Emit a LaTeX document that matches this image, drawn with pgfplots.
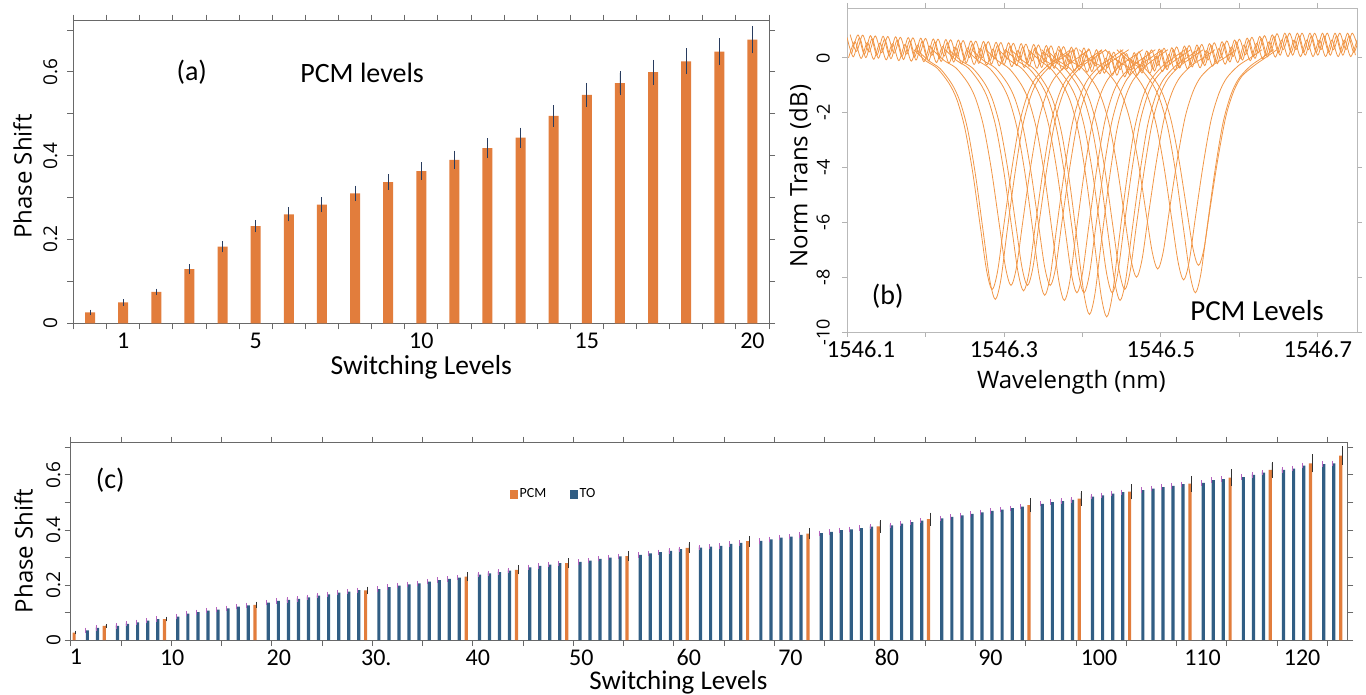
\documentclass[border=0pt]{standalone}
\usepackage{fontspec}
\setmainfont{Carlito}
\newfontfamily\osans{Open Sans}
\usepackage{pgfplots}
\usepackage{pgfplotstable}
\pgfplotsset{compat=1.18}
\definecolor{pcm}{RGB}{226,125,60}
\definecolor{tob}{RGB}{49,94,132}
\definecolor{errb}{RGB}{40,60,95}
\definecolor{errm}{RGB}{180,100,190}
\definecolor{errk}{RGB}{50,50,50}
\definecolor{orl}{RGB}{241,150,70}
\definecolor{axg}{RGB}{105,105,105}
\newcommand{\fs}[1]{\fontsize{#1}{#1}\selectfont}
\pgfplotsset{ol/.style={orl, line width=0.8pt, smooth, mark=none}}
\tikzset{ytl/.style={rotate=90, anchor=south, inner sep=0pt}}

\pgfplotstableread{
xa ya xb yb xc yc xd yd
0.100 0.75 0.104 0.85 0.102 0.00 0.106 0.15
0.108 0.04 0.112 0.24 0.110 0.59 0.114 0.84
0.116 0.73 0.120 0.83 0.118 -0.02 0.122 0.13
0.124 0.01 0.128 0.21 0.126 0.56 0.130 0.81
0.132 0.70 0.136 0.80 0.134 -0.05 0.138 0.10
0.140 -0.01 0.144 0.19 0.142 0.54 0.146 0.79
0.148 0.68 0.152 0.78 0.150 -0.07 0.154 0.08
0.156 -0.03 0.160 0.17 0.158 0.52 0.162 0.77
0.164 0.65 0.168 0.75 0.166 -0.10 0.170 0.05
0.172 -0.06 0.176 0.14 0.174 0.49 0.178 0.74
0.180 0.63 0.184 0.73 0.182 -0.12 0.186 0.03
0.188 -0.08 0.192 0.12 0.190 0.47 0.194 0.72
0.196 0.61 0.200 0.71 0.198 -0.14 0.202 0.01
0.204 -0.11 0.208 0.09 0.206 0.44 0.210 0.69
0.212 0.58 0.216 0.68 0.214 -0.17 0.218 -0.02
0.220 -0.13 0.224 0.07 0.222 0.42 0.226 0.67
0.228 0.56 0.232 0.66 0.230 -0.19 0.234 -0.04
0.236 -0.15 0.240 0.05 0.238 0.40 0.242 0.65
0.244 0.53 0.248 0.63 0.246 -0.22 0.250 -0.07
0.252 -0.18 0.256 0.02 0.254 0.37 0.258 0.62
0.260 0.51 0.264 0.61 0.262 -0.24 0.266 -0.09
0.268 -0.20 0.272 0.00 0.270 0.35 0.274 0.60
0.276 0.49 0.280 0.59 0.278 -0.26 0.282 -0.11
0.284 -0.23 0.288 -0.03 0.286 0.32 0.290 0.57
0.292 0.46 0.296 0.56 0.294 -0.29 0.298 -0.14
0.300 -0.25 0.304 -0.05 0.302 0.30 0.306 0.55
0.308 0.43 0.312 0.53 0.310 -0.32 0.314 -0.17
0.316 -0.28 0.320 -0.08 0.318 0.27 0.322 0.52
0.324 0.40 0.328 0.50 0.326 -0.35 0.330 -0.20
0.332 -0.31 0.336 -0.11 0.334 0.24 0.338 0.49
0.340 0.37 0.344 0.47 0.342 -0.38 0.346 -0.23
0.348 -0.35 0.352 -0.15 0.350 0.20 0.354 0.45
0.356 0.34 0.360 0.44 0.358 -0.41 0.362 -0.26
0.364 -0.38 0.368 -0.18 0.366 0.17 0.370 0.42
0.372 0.31 0.376 0.41 0.374 -0.44 0.378 -0.29
0.380 -0.41 0.384 -0.21 0.382 0.14 0.386 0.39
0.388 0.27 0.392 0.37 0.390 -0.48 0.394 -0.33
0.396 -0.44 0.400 -0.24 0.398 0.11 0.402 0.36
0.404 0.23 0.408 0.33 0.406 -0.52 0.410 -0.37
0.412 -0.50 0.416 -0.30 0.414 0.05 0.418 0.30
0.420 0.17 0.424 0.27 0.422 -0.58 0.426 -0.43
0.428 -0.56 0.432 -0.36 0.430 -0.01 0.434 0.24
0.436 0.11 0.440 0.21 0.438 -0.64 0.442 -0.49
0.444 -0.63 0.448 -0.43 0.446 -0.08 0.450 0.17
0.452 0.06 0.456 0.16 0.454 -0.69 0.458 -0.54
0.460 -0.61 0.464 -0.41 0.462 -0.06 0.466 0.19
0.468 0.12 0.472 0.22 0.470 -0.63 0.474 -0.48
0.476 -0.55 0.480 -0.35 0.478 0.00 0.482 0.25
0.484 0.19 0.488 0.29 0.486 -0.56 0.490 -0.41
0.492 -0.48 0.496 -0.28 0.494 0.07 0.498 0.32
0.500 0.25 0.504 0.35 0.502 -0.50 0.506 -0.35
0.508 -0.43 0.512 -0.23 0.510 0.12 0.514 0.37
0.516 0.30 0.520 0.40 0.518 -0.45 0.522 -0.30
0.524 -0.37 0.528 -0.17 0.526 0.18 0.530 0.43
0.532 0.35 0.536 0.45 0.534 -0.40 0.538 -0.25
0.540 -0.33 0.544 -0.13 0.542 0.22 0.546 0.47
0.548 0.39 0.552 0.49 0.550 -0.36 0.554 -0.21
0.556 -0.28 0.560 -0.08 0.558 0.27 0.562 0.52
0.564 0.45 0.568 0.55 0.566 -0.30 0.570 -0.15
0.572 -0.21 0.576 -0.01 0.574 0.34 0.578 0.59
0.580 0.52 0.584 0.62 0.582 -0.23 0.586 -0.08
0.588 -0.15 0.592 0.05 0.590 0.40 0.594 0.65
0.596 0.58 0.600 0.68 0.598 -0.17 0.602 -0.02
0.604 -0.08 0.608 0.12 0.606 0.47 0.610 0.72
0.612 0.65 0.616 0.75 0.614 -0.10 0.618 0.05
0.620 -0.02 0.624 0.18 0.622 0.53 0.626 0.78
0.628 0.71 0.632 0.81 0.630 -0.04 0.634 0.11
0.636 0.04 0.640 0.24 0.638 0.59 0.642 0.84
0.644 0.78 0.648 0.88 0.646 0.03 0.650 0.18
0.652 0.10 0.656 0.30 0.654 0.65 0.658 0.90
0.660 0.80 0.664 0.90 0.662 0.05 0.666 0.20
0.668 0.10 0.672 0.30 0.670 0.65 0.674 0.90
0.676 0.80 0.680 0.90 0.678 0.05 0.682 0.20
0.684 0.10 0.688 0.30 0.686 0.65 0.690 0.90
0.692 0.80 0.696 0.90 0.694 0.05 0.698 0.20
0.700 0.10 0.704 0.30 0.702 0.65 0.706 0.90
0.708 0.80 0.712 0.90 0.710 0.05 0.714 0.20
0.716 0.10 0.720 0.30 0.718 0.65 0.722 0.90
0.724 0.80 0.728 0.90 0.726 0.05 0.730 0.20
0.732 0.10 0.736 0.30 0.734 0.65 0.738 0.90
0.740 0.80 0.744 0.90 0.742 0.05 0.746 0.20
0.748 0.10 0.752 0.30 0.750 0.65 0.754 0.90
}\basetab

\begin{document}
\begin{tikzpicture}
\useasboundingbox (0,0) rectangle (1366pt,694pt);

% ---------------- (a) ----------------
\begin{axis}[
  at={(73.5pt,370.7pt)}, anchor=south west,
  scale only axis, width=695.5pt, height=302.6pt,
  xmin=-0.5, xmax=20.5, ymin=0, ymax=0.722,
  axis line style={draw=axg, line width=0.9pt},
  tick align=outside, major tick length=6pt, minor tick length=6pt,
  tick style={draw=axg, line width=0.8pt},
  xtick={1,5,10,15,20}, xticklabels={1,5,10,15,20},
  major x tick style={draw=none},
  minor xtick={-0.5,0.5,...,20.5},
  ytick={0,0.2,0.4,0.6}, yticklabels={},
  minor ytick={0.1,0.3,0.5,0.7},
  xticklabel style={font=\fs{24}},
  xlabel={Switching Levels},
  xlabel style={font=\fs{27.5}, at={(axis description cs:0.5,-0.145)}, anchor=center},
  ylabel={Phase Shift},
  ylabel style={font=\osans\fs{24}, at={(axis description cs:-0.0733,0.485)}, anchor=center},
  after end axis/.code={
    \node[ytl, font=\osans\fs{19}] at ([xshift=-16pt]axis cs:-0.5,0) {0};
    \node[ytl, font=\osans\fs{19}] at ([xshift=-16pt]axis cs:-0.5,0.2) {0.2};
    \node[ytl, font=\osans\fs{19}] at ([xshift=-16pt]axis cs:-0.5,0.4) {0.4};
    \node[ytl, font=\osans\fs{19}] at ([xshift=-16pt]axis cs:-0.5,0.6) {0.6};
  },
]
\addplot[ybar, bar width=10pt, fill=pcm, draw=none,
  error bars/.cd, y dir=both, y explicit,
  error bar style={errb, line width=0.8pt},
  error mark options={errb, mark size=2pt, line width=0.8pt}]
coordinates {
(0,0.026) +- (0,0.002)
(1,0.050) +- (0,0.003)
(2,0.075) +- (0,0.003)
(3,0.129) +- (0,0.007)
(4,0.183) +- (0,0.009)
(5,0.232) +- (0,0.010)
(6,0.260) +- (0,0.012)
(7,0.283) +- (0,0.013)
(8,0.310) +- (0,0.014)
(9,0.337) +- (0,0.014)
(10,0.363) +- (0,0.016)
(11,0.390) +- (0,0.017)
(12,0.418) +- (0,0.019)
(13,0.443) +- (0,0.019)
(14,0.495) +- (0,0.021)
(15,0.545) +- (0,0.024)
(16,0.573) +- (0,0.024)
(17,0.599) +- (0,0.025)
(18,0.625) +- (0,0.026)
(19,0.648) +- (0,0.027)
(20,0.677) +- (0,0.028)
};
\node[font=\fs{28}] at (axis description cs:0.170,0.830) {(a)};
\node[font=\fs{28}] at (axis description cs:0.415,0.827) {PCM levels};
\end{axis}

% ---------------- (b) ----------------
\begin{axis}[
  at={(847pt,362pt)}, anchor=south west,
  scale only axis, width=510pt, height=324pt,
  xmin=0.1, xmax=0.75, ymin=-10, ymax=1.82,
  axis line style={draw=gray!55, line width=0.9pt},
  tick align=outside, major tick length=5pt, minor tick length=5pt,
  tick style={draw=gray!60, line width=0.8pt},
  xtick={0.3,0.5,0.7}, xticklabels={1546.3,1546.5,1546.7},
  minor xtick={0.2,0.4,0.6},
  extra x ticks={0.1}, extra x tick labels={1546.1},
  extra x tick style={xticklabel style={xshift=14pt}},
  ytick={-10,-8,-6,-4,-2,0}, yticklabels={},
  xticklabel style={font=\fs{24.5}},
  xlabel={Wavelength (nm)},
  xlabel style={font=\osans\fs{24}, at={(axis description cs:0.44,-0.154)}, anchor=center},
  ylabel={Norm Trans (dB)},
  ylabel style={font=\osans\fs{24}, at={(axis description cs:-0.092,0.481)}, anchor=center},
  after end axis/.code={
    \node[ytl, font=\osans\fs{18}] at ([xshift=-17pt]axis cs:0.1,-10) {-10};
    \node[ytl, font=\osans\fs{18}] at ([xshift=-17pt]axis cs:0.1,-8) {-8};
    \node[ytl, font=\osans\fs{18}] at ([xshift=-17pt]axis cs:0.1,-6) {-6};
    \node[ytl, font=\osans\fs{18}] at ([xshift=-17pt]axis cs:0.1,-4) {-4};
    \node[ytl, font=\osans\fs{18}] at ([xshift=-17pt]axis cs:0.1,-2) {-2};
    \node[ytl, font=\osans\fs{18}] at ([xshift=-17pt]axis cs:0.1,0) {0};
  },
]
\addplot[ol] table[x=xa,y=ya]{\basetab};
\addplot[ol] table[x=xb,y=yb]{\basetab};
\addplot[ol] table[x=xc,y=yc]{\basetab};
\addplot[ol] table[x=xd,y=yd]{\basetab};
\addplot[ol] coordinates {(.185,.3)(.200,-.1)(.215,-.38)(.230,-.93)(.240,-1.52)(.250,-2.54)(.260,-4.14)(.270,-6.17)(.278,-7.77)(.285,-8.45)(.292,-7.77)(.300,-6.08)(.310,-4.06)(.320,-2.37)(.330,-1.35)(.340,-.76)(.355,-.30)(.370,0)(.385,.3)};
\addplot[ol] coordinates {(.189,.3)(.204,-.1)(.219,-.40)(.234,-.97)(.244,-1.59)(.254,-2.64)(.264,-4.32)(.274,-6.43)(.282,-8.11)(.289,-8.81)(.296,-8.11)(.304,-6.34)(.314,-4.23)(.324,-2.47)(.334,-1.41)(.344,-.79)(.359,-.31)(.374,0)(.389,.3)};
\addplot[ol] coordinates {(.209,.3)(.224,-.1)(.239,-.37)(.254,-.91)(.264,-1.49)(.274,-2.49)(.284,-4.07)(.294,-6.06)(.302,-7.64)(.309,-8.30)(.316,-7.64)(.324,-5.98)(.334,-3.98)(.344,-2.32)(.354,-1.33)(.364,-.75)(.379,-.29)(.394,0)(.409,.3)};
\addplot[ol] coordinates {(.225,.3)(.240,-.1)(.255,-.38)(.270,-.94)(.280,-1.53)(.290,-2.55)(.300,-4.17)(.310,-6.21)(.318,-7.82)(.325,-8.50)(.332,-7.82)(.340,-6.12)(.350,-4.08)(.360,-2.38)(.370,-1.36)(.380,-.77)(.395,-.30)(.410,0)(.425,.3)};
\addplot[ol] coordinates {(.230,.3)(.245,-.1)(.260,-.37)(.275,-.91)(.285,-1.49)(.295,-2.49)(.305,-4.07)(.315,-6.06)(.323,-7.64)(.330,-8.30)(.337,-7.64)(.345,-5.98)(.355,-3.98)(.365,-2.32)(.375,-1.33)(.385,-.75)(.400,-.29)(.415,0)(.430,.3)};
\addplot[ol] coordinates {(.252,.3)(.267,-.1)(.282,-.39)(.297,-.95)(.307,-1.56)(.317,-2.60)(.327,-4.24)(.337,-6.32)(.345,-7.97)(.352,-8.66)(.359,-7.97)(.367,-6.24)(.377,-4.16)(.387,-2.42)(.397,-1.39)(.407,-.78)(.422,-.30)(.437,0)(.452,.3)};
\addplot[ol] coordinates {(.259,.3)(.274,-.1)(.289,-.37)(.304,-.91)(.314,-1.49)(.324,-2.49)(.334,-4.07)(.344,-6.06)(.352,-7.64)(.359,-8.30)(.366,-7.64)(.374,-5.98)(.384,-3.98)(.394,-2.32)(.404,-1.33)(.414,-.75)(.429,-.29)(.444,0)(.459,.3)};
\addplot[ol] coordinates {(.277,.3)(.292,-.1)(.307,-.40)(.322,-.97)(.332,-1.59)(.342,-2.66)(.352,-4.34)(.362,-6.46)(.370,-8.14)(.377,-8.85)(.384,-8.14)(.392,-6.37)(.402,-4.25)(.412,-2.48)(.422,-1.42)(.432,-.80)(.447,-.31)(.462,0)(.477,.3)};
\addplot[ol] coordinates {(.293,.3)(.308,-.1)(.323,-.39)(.338,-.94)(.348,-1.54)(.358,-2.57)(.368,-4.20)(.378,-6.26)(.386,-7.88)(.393,-8.57)(.400,-7.88)(.408,-6.17)(.418,-4.11)(.428,-2.40)(.438,-1.37)(.448,-.77)(.463,-.30)(.478,0)(.493,.3)};
\addplot[ol] coordinates {(.302,.3)(.317,-.1)(.332,-.39)(.347,-.94)(.357,-1.54)(.367,-2.57)(.377,-4.20)(.387,-6.26)(.395,-7.88)(.402,-8.57)(.409,-7.88)(.417,-6.17)(.427,-4.11)(.437,-2.40)(.447,-1.37)(.457,-.77)(.472,-.30)(.487,0)(.502,.3)};
\addplot[ol] coordinates {(.309,.3)(.324,-.1)(.339,-.42)(.354,-1.03)(.364,-1.68)(.374,-2.81)(.384,-4.59)(.394,-6.83)(.402,-8.61)(.409,-9.36)(.416,-8.61)(.424,-6.74)(.434,-4.49)(.444,-2.62)(.454,-1.50)(.464,-.84)(.479,-.33)(.494,0)(.509,.3)};
\addplot[ol] coordinates {(.331,.3)(.346,-.1)(.361,-.43)(.376,-1.04)(.386,-1.70)(.396,-2.84)(.406,-4.63)(.416,-6.90)(.424,-8.69)(.431,-9.45)(.438,-8.69)(.446,-6.80)(.456,-4.54)(.466,-2.65)(.476,-1.51)(.486,-.85)(.501,-.33)(.516,0)(.531,.3)};
\addplot[ol] coordinates {(.338,.3)(.353,-.1)(.368,-.39)(.383,-.94)(.393,-1.54)(.403,-2.57)(.413,-4.20)(.423,-6.26)(.431,-7.88)(.438,-8.57)(.445,-7.88)(.453,-6.17)(.463,-4.11)(.473,-2.40)(.483,-1.37)(.493,-.77)(.508,-.30)(.523,0)(.538,.3)};
\addplot[ol] coordinates {(.348,.3)(.363,-.1)(.378,-.40)(.393,-.97)(.403,-1.59)(.413,-2.66)(.423,-4.34)(.433,-6.46)(.441,-8.14)(.448,-8.85)(.455,-8.14)(.463,-6.37)(.473,-4.25)(.483,-2.48)(.493,-1.42)(.503,-.80)(.518,-.31)(.533,0)(.548,.3)};
\addplot[ol] coordinates {(.354,.3)(.369,-.1)(.384,-.38)(.399,-.93)(.409,-1.52)(.419,-2.54)(.429,-4.14)(.439,-6.17)(.447,-7.77)(.454,-8.45)(.461,-7.77)(.469,-6.08)(.479,-4.06)(.489,-2.37)(.499,-1.35)(.509,-.76)(.524,-.30)(.539,0)(.554,.3)};
\addplot[ol] coordinates {(.369,.3)(.384,-.1)(.399,-.36)(.414,-.88)(.424,-1.44)(.434,-2.40)(.444,-3.92)(.454,-5.84)(.462,-7.36)(.469,-8.00)(.476,-7.36)(.484,-5.76)(.494,-3.84)(.504,-2.24)(.514,-1.28)(.524,-.72)(.539,-.28)(.554,0)(.569,.3)};
\addplot[ol] coordinates {(.396,.3)(.411,-.1)(.426,-.35)(.441,-.85)(.451,-1.39)(.461,-2.31)(.471,-3.77)(.481,-5.62)(.489,-7.08)(.496,-7.70)(.503,-7.08)(.511,-5.54)(.521,-3.70)(.531,-2.16)(.541,-1.23)(.551,-.69)(.566,-.27)(.581,0)(.596,.3)};
\addplot[ol] coordinates {(.429,.3)(.444,-.1)(.459,-.36)(.474,-.89)(.484,-1.46)(.494,-2.43)(.504,-3.97)(.514,-5.91)(.522,-7.45)(.529,-8.10)(.536,-7.45)(.544,-5.83)(.554,-3.89)(.564,-2.27)(.574,-1.30)(.584,-.73)(.599,-.28)(.614,0)(.629,.3)};
\addplot[ol] coordinates {(.444,.3)(.459,-.1)(.474,-.39)(.489,-.94)(.499,-1.54)(.509,-2.57)(.519,-4.20)(.529,-6.26)(.537,-7.88)(.544,-8.57)(.551,-7.88)(.559,-6.17)(.569,-4.11)(.579,-2.40)(.589,-1.37)(.599,-.77)(.614,-.30)(.629,0)(.644,.3)};
\addplot[ol] coordinates {(.448,.3)(.463,-.1)(.478,-.34)(.493,-.83)(.503,-1.36)(.513,-2.27)(.523,-3.71)(.533,-5.53)(.541,-6.96)(.548,-7.57)(.555,-6.96)(.563,-5.45)(.573,-3.63)(.583,-2.12)(.593,-1.21)(.603,-.68)(.618,-.30)(.633,0)(.648,.3)};
\node[font=\fs{28}] at (axis description cs:0.080,0.111) {(b)};
\node[font=\fs{29}] at (axis description cs:0.804,0.065) {PCM Levels};
\end{axis}

% ---------------- (c) ----------------
\begin{axis}[
  at={(70.7pt,54pt)}, anchor=south west,
  scale only axis, width=1276.6pt, height=197.3pt,
  xmin=0.5, xmax=127.5, ymin=0, ymax=0.717,
  axis line style={draw=axg, line width=0.9pt},
  tick align=outside, major tick length=6pt, minor tick length=6pt,
  tick style={draw=axg, line width=0.8pt},
  xtick={1.03,10.6,21.2,30.9,41,51.3,62,72.1,81.7,92,102.8,113.1,123},
  xticklabels={1,10,20,30.,40,50,60,70,80,90,100,110,120},
  major x tick style={draw=none},
  minor xtick={0.5,5.5,...,125.5},
  ytick={0,0.2,0.4,0.6}, yticklabels={},
  minor ytick={0.1,0.3,0.5,0.7},
  xticklabel style={font=\fs{24}},
  xlabel={Switching Levels},
  xlabel style={font=\fs{27}, at={(axis description cs:0.476,-0.215)}, anchor=center},
  ylabel={Phase Shift},
  ylabel style={font=\osans\fs{24}, at={(axis description cs:-0.037,0.451)}, anchor=center},
  legend style={at={(axis description cs:0.3418,0.74)}, anchor=west, draw=none, fill=none,
    font=\fs{14}, legend columns=2, /tikz/every even column/.append style={column sep=22pt}},
  after end axis/.code={
    \node[ytl, font=\osans\fs{19}] at ([xshift=-10pt]axis cs:0.5,0) {0};
    \node[ytl, font=\osans\fs{19}] at ([xshift=-10pt]axis cs:0.5,0.2) {0.2};
    \node[ytl, font=\osans\fs{19}] at ([xshift=-10pt]axis cs:0.5,0.4) {0.4};
    \node[ytl, font=\osans\fs{19}] at ([xshift=-10pt]axis cs:0.5,0.6) {0.6};
  },
]
\addlegendimage{legend image code/.code={\fill[pcm] (0pt,-4pt) rectangle (7pt,4pt);}}
\addlegendentry{PCM}
\addlegendimage{legend image code/.code={\fill[tob] (0pt,-4pt) rectangle (7pt,4pt);}}
\addlegendentry{TO}
\addplot[ybar, bar width=3.2pt, bar shift=1.6pt, fill=tob, draw=none, forget plot,
  error bars/.cd, y dir=both, y fixed=0.005,
  error bar style={errm, line width=0.6pt},
  error mark options={errm, mark size=1.3pt, line width=0.6pt}]
coordinates {
(2,.035)(3,.044)(5,.051)(6,.059)(7,.064)(8,.070)(9,.076)(11,.085)(12,.096)(13,.101)
(14,.107)(15,.110)(16,.115)(17,.121)(18,.126)(20,.136)(21,.142)(22,.146)(23,.149)(24,.155)
(25,.161)(26,.166)(27,.172)(28,.176)(29,.181)(31,.185)(32,.192)(33,.198)(34,.202)(35,.206)
(36,.212)(37,.218)(38,.222)(39,.227)(41,.238)(42,.242)(43,.247)(44,.252)(46,.264)(47,.269)
(48,.274)(49,.279)(51,.284)(52,.288)(53,.295)(54,.299)(55,.304)(57,.309)(58,.315)(59,.319)
(60,.324)(61,.330)(63,.336)(64,.339)(65,.342)(66,.349)(67,.353)(69,.360)(70,.366)(71,.372)
(72,.376)(73,.382)(75,.388)(76,.393)(77,.399)(78,.402)(79,.407)(80,.412)(82,.417)(83,.423)
(84,.428)(85,.434)(87,.442)(88,.447)(89,.453)(90,.458)(91,.464)(92,.469)(93,.474)(94,.479)
(95,.485)(97,.495)(98,.501)(99,.505)(100,.509)(102,.521)(103,.526)(104,.532)(105,.537)(107,.545)
(108,.550)(109,.556)(110,.560)(111,.566)(113,.571)(114,.581)(115,.585)(117,.592)(118,.600)(119,.608)
(121,.618)(122,.623)(123,.634)(125,.639)(126,.642)
};
\addplot[ybar, bar width=3.2pt, bar shift=-1.6pt, fill=pcm, draw=none, forget plot,
  error bars/.cd, y dir=both, y explicit,
  error bar style={errk, line width=0.7pt},
  error mark options={errk, mark size=1.3pt, line width=0.7pt}]
coordinates {
(1,0.027) +- (0,0.002)
(4,0.051) +- (0,0.003)
(10,0.076) +- (0,0.004)
(19,0.128) +- (0,0.007)
(30,0.180) +- (0,0.009)
(40,0.230) +- (0,0.011)
(45,0.255) +- (0,0.012)
(50,0.279) +- (0,0.013)
(56,0.305) +- (0,0.014)
(62,0.335) +- (0,0.015)
(68,0.359) +- (0,0.015)
(74,0.387) +- (0,0.016)
(81,0.413) +- (0,0.018)
(86,0.439) +- (0,0.019)
(96,0.490) +- (0,0.020)
(101,0.514) +- (0,0.021)
(106,0.539) +- (0,0.022)
(112,0.568) +- (0,0.024)
(116,0.590) +- (0,0.026)
(120,0.618) +- (0,0.025)
(124,0.642) +- (0,0.028)
(127,0.670) +- (0,0.029)
};
\node[font=\fs{28}] at (axis description cs:0.031,0.811) {(c)};
\end{axis}
\end{tikzpicture}
\end{document}
